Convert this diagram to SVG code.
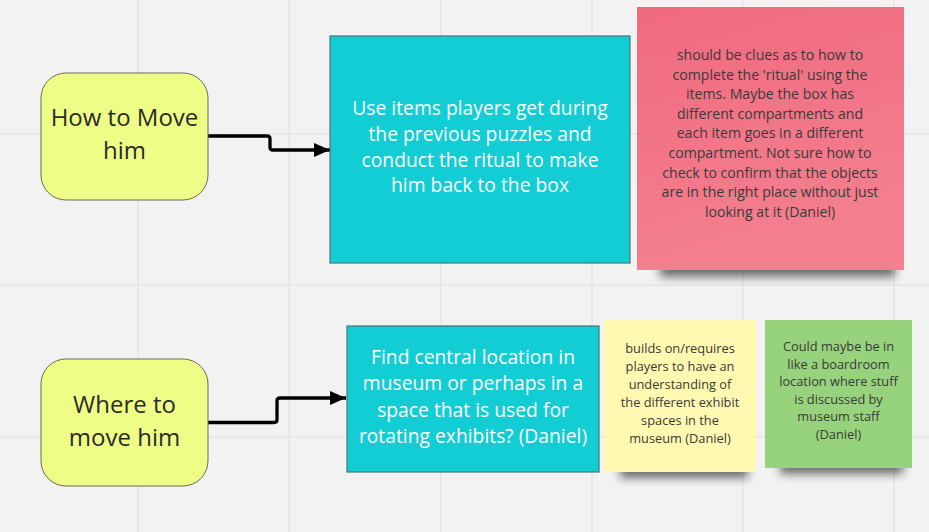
<svg xmlns="http://www.w3.org/2000/svg" width="929" height="532" viewBox="0 0 929 532">
<defs>
<style>
.grid{stroke:#e4e4e4;stroke-width:1.5}
.topic{fill:#edfd86;stroke:#6b6b5a;stroke-width:1}
.topic-t{font-family:"Open Sans","Liberation Sans",sans-serif;font-size:24px;fill:#2b2b2b;text-anchor:middle}
.idea{fill:#12cdd4;stroke:#4d7476;stroke-width:1.2}
.idea-t{font-family:"Open Sans","Liberation Sans",sans-serif;font-size:19.3px;font-weight:500;fill:#ffffff;text-anchor:middle}
.note-t{font-family:"Open Sans","Liberation Sans",sans-serif;font-size:14.1px;fill:#3a3a3a;text-anchor:middle}
.note-s{font-family:"Open Sans","Liberation Sans",sans-serif;font-size:12.8px;fill:#3a3a3a;text-anchor:middle}
.conn{fill:none;stroke:#000;stroke-width:3.3;stroke-linejoin:round}
.shadow{fill:#000;opacity:0.55;filter:url(#blur)}
</style>
<filter id="blur" x="-20%" y="-50%" width="140%" height="200%"><feGaussianBlur stdDeviation="5"/></filter>
<marker id="arrow" markerWidth="17" markerHeight="15" refX="16" refY="7" orient="auto" markerUnits="userSpaceOnUse">
<path d="M0,0 L16,7 L0,14 Z" fill="#000"/>
</marker>
<linearGradient id="pinkg" x1="0" y1="0" x2="0.3" y2="1">
<stop offset="0" stop-color="#f06a7e"/><stop offset="1" stop-color="#f4808f"/>
</linearGradient>
</defs>
<rect width="929" height="532" fill="#f2f2f2"/>
<g id="grid">
<line class="grid" x1="138" y1="0" x2="138" y2="532"/>
<line class="grid" x1="289" y1="0" x2="289" y2="532"/>
<line class="grid" x1="440.5" y1="0" x2="440.5" y2="532"/>
<line class="grid" x1="592" y1="0" x2="592" y2="532"/>
<line class="grid" x1="743" y1="0" x2="743" y2="532"/>
<line class="grid" x1="894" y1="0" x2="894" y2="532"/>
<line class="grid" x1="0" y1="134" x2="929" y2="134"/>
<line class="grid" x1="0" y1="285" x2="929" y2="285"/>
<line class="grid" x1="0" y1="437" x2="929" y2="437"/>
</g>
<g id="connectors">
<path class="conn" d="M208,136 H267 Q270,136 270,139 V147.5 Q270,150 273,150 H330" marker-end="url(#arrow)"/>
<path class="conn" d="M208,422.5 H274 Q277,422.5 277,419.5 V401 Q277,398 280,398 H346" marker-end="url(#arrow)"/>
</g>
<g id="node-how">
<rect class="topic" x="41" y="73" width="167" height="127" rx="25"/>
<text class="topic-t" x="124.5" y="126">How to Move</text>
<text class="topic-t" x="124.5" y="159">him</text>
</g>
<g id="node-use-items">
<rect class="idea" x="330" y="36" width="300" height="227"/>
<text class="idea-t" x="480" y="115">Use items players get during</text>
<text class="idea-t" x="480" y="141">the previous puzzles and</text>
<text class="idea-t" x="480" y="166.5">conduct the ritual to make</text>
<text class="idea-t" x="480" y="192">him back to the box</text>
</g>
<g id="note-pink">
<rect class="shadow" x="660" y="255" width="235" height="22"/>
<rect x="637" y="7" width="267" height="263" fill="url(#pinkg)"/>
<text class="note-t" x="770" y="60">should be clues as to how to</text>
<text class="note-t" x="770" y="79.5">complete the 'ritual' using the</text>
<text class="note-t" x="770" y="99">items. Maybe the box has</text>
<text class="note-t" x="770" y="118.5">different compartments and</text>
<text class="note-t" x="770" y="138">each item goes in a different</text>
<text class="note-t" x="770" y="158">compartment. Not sure how to</text>
<text class="note-t" x="770" y="177.5">check to confirm that the objects</text>
<text class="note-t" x="770" y="197">are in the right place without just</text>
<text class="note-t" x="770" y="216.5">looking at it (Daniel)</text>
</g>
<g id="node-where">
<rect class="topic" x="41" y="359" width="167" height="127" rx="25"/>
<text class="topic-t" x="124.5" y="413">Where to</text>
<text class="topic-t" x="124.5" y="446">move him</text>
</g>
<g id="node-find">
<rect class="idea" x="347" y="326" width="252" height="146"/>
<text class="idea-t" x="473" y="363.5">Find central location in</text>
<text class="idea-t" x="473" y="390">museum or perhaps in a</text>
<text class="idea-t" x="473" y="416.5">space that is used for</text>
<text class="idea-t" x="473" y="443">rotating exhibits? (Daniel)</text>
</g>
<g id="note-yellow">
<rect class="shadow" x="620" y="460" width="128" height="18"/>
<rect x="604" y="320" width="152" height="152" fill="#fff8b0"/>
<text class="note-s" x="680" y="353">builds on/requires</text>
<text class="note-s" x="680" y="371">players to have an</text>
<text class="note-s" x="680" y="389">understanding of</text>
<text class="note-s" x="680" y="407">the different exhibit</text>
<text class="note-s" x="680" y="425">spaces in the</text>
<text class="note-s" x="680" y="443">museum (Daniel)</text>
</g>
<g id="note-green">
<rect class="shadow" x="780" y="456" width="123" height="18"/>
<rect x="765" y="320" width="147" height="148" fill="#97d37c"/>
<text class="note-s" x="838.5" y="351">Could maybe be in</text>
<text class="note-s" x="838.5" y="368.5">like a boardroom</text>
<text class="note-s" x="838.5" y="386">location where stuff</text>
<text class="note-s" x="838.5" y="403.5">is discussed by</text>
<text class="note-s" x="838.5" y="421">museum staff</text>
<text class="note-s" x="838.5" y="438.5">(Daniel)</text>
</g>
</svg>
